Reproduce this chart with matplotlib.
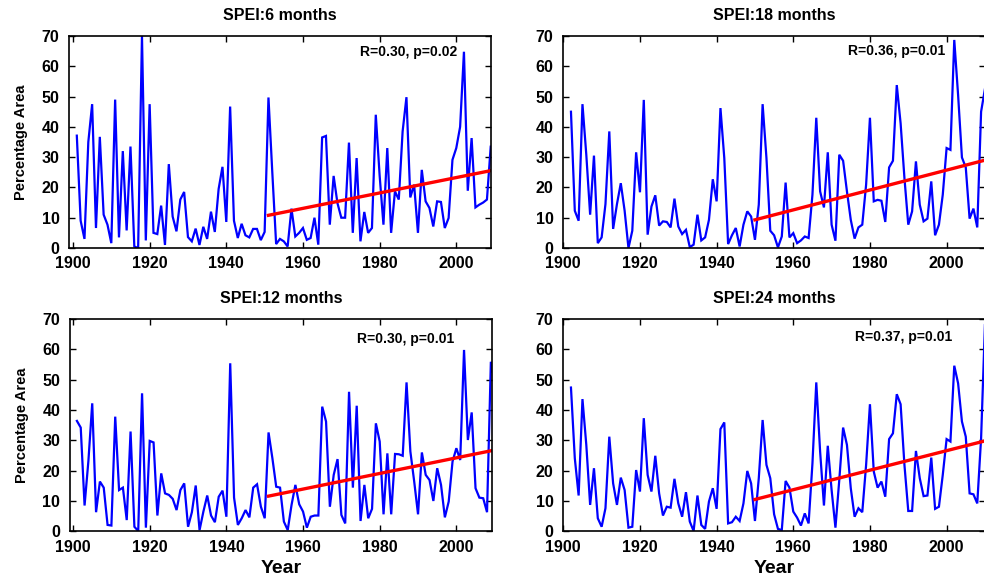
import numpy as np
import matplotlib
matplotlib.use("Agg")
import matplotlib.pyplot as plt

plt.rcParams['font.family'] = ['Liberation Sans', 'DejaVu Sans']
plt.rcParams['font.weight'] = 'bold'

years_a = list(range(1901, 2011))
years_b = list(range(1902, 2011))

spei6 = [37.1, 9, 3, 35, 47.5, 6.6, 36.7, 11, 7.7, 1.6,
         49, 3.5, 32, 5.8, 33.5, 0.5, 0, 70, 2.5, 47.5,
         5, 4.6, 14, 1, 27.7, 10.4, 5.5, 16, 18.5, 3.6,
         2.2, 6.4, 1, 7, 3, 12, 5.3, 19.5, 26.8, 8.6,
         46.7, 9, 3.3, 8, 4.2, 3.5, 6.3, 6.3, 2.6, 5.3,
         49.7, 25, 1.3, 3, 2.2, 0.5, 13, 3.8, 5, 6.6,
         2.7, 3.3, 10, 1.1, 36.5, 37, 7.7, 23.8, 14.8, 10,
         10, 34.8, 5, 29.7, 2.2, 11.9, 5, 6.6, 44, 24,
         7.7, 33, 5, 18.7, 16, 38.5, 49.8, 16.7, 20.9, 5,
         25.8, 15.4, 13.2, 7.1, 15.4, 15.2, 6.6, 9.9, 29.1, 33,
         40, 64.8, 18.9, 36.3, 13.4, 14.3, 15, 16, 33.8, 29]

spei18 = [45, 12.3, 9, 47.5, 30.8, 11, 30.5, 1.6, 3.5,
          14.5, 38.5, 6.3, 14.5, 21.4, 12.3, 0, 5.7, 31.6, 18.4,
          48.9, 4.4, 13.7, 17.4, 7.4, 8.8, 8.6, 6.8, 16.3, 7.1,
          4.6, 6, 0.3, 1.1, 11, 2.5, 3.5, 9.3, 22.7, 15.4,
          46.2, 29.7, 1.3, 4.2, 6.6, 0.5, 7.7, 12.1, 10.4, 2.7,
          14.3, 47.5, 29.7, 5.7, 4.2, 0.2, 3.8, 21.6, 3.5, 4.9,
          1.6, 2.5, 3.8, 3.3, 17.6, 43, 18.7, 13.4, 31.6, 7.7,
          2.4, 30.8, 28.8, 18.7, 9.3, 3.1, 6.8, 7.7, 20.9, 43,
          15.4, 15.9, 15.6, 8.6, 26.6, 28.8, 53.8, 41.2, 23.1, 7.7,
          12.1, 28.6, 14.3, 8.8, 9.7, 22, 4.2, 7.7, 17.6, 33,
          32.4, 68.7, 50.5, 29.9, 26.6, 9.7, 13, 6.8, 45, 52.5]

spei12 = [36.4, 34.2, 8.5, 23.2, 42.2, 6.3, 16.4, 14.4, 2.1, 1.9,
          37.8, 13.6, 14.4, 3.7, 32.9, 1.5, 0.1, 45.5, 1.2, 29.8,
          29.3, 5.2, 19.1, 12.5, 12, 10.7, 7, 13.6, 15.8, 1.5,
          6.3, 15.1, 0.4, 6.5, 11.8, 5.2, 3, 11.4, 13.4, 4.8,
          55.4, 11.1, 2.1, 4.3, 7, 4.6, 14.4, 15.5, 8.1, 4.3,
          32.6, 24.1, 14.7, 14.4, 3.2, 0.4, 8.7, 15.3, 8.9, 6.5,
          1.2, 4.8, 5.2, 5.2, 41.1, 36.2, 8.1, 18.6, 23.8, 5.4,
          2.6, 46, 14.4, 41.4, 3.4, 15.3, 4.3, 7.4, 35.6, 29.6,
          5.6, 25.7, 5.6, 25.5, 25.4, 24.9, 49.1, 26.3, 16.4, 5.6,
          26, 18.6, 16.9, 10, 20.8, 15.3, 4.6, 9.8, 23, 27.4,
          23.5, 59.8, 30.1, 39.2, 14.2, 11.1, 10.9, 6.3, 55.9, 49.3]

spei24 = [47.4, 24.1, 11.8, 43.6, 28.5, 8.7, 20.8, 4.3, 1.5,
          7.6, 31.2, 15.8, 8.7, 17.7, 13.6, 1.2, 1.5, 20.2, 13.1,
          37.3, 18.6, 13.1, 24.9, 12.5, 5.2, 8.1, 7.8, 17.3, 9.2,
          4.8, 12.9, 3.2, 0.1, 11.8, 2.1, 0.8, 9.8, 14.2, 7.4,
          33.7, 35.9, 2.6, 3, 4.8, 3.4, 9.2, 19.9, 15.8, 3.4,
          17.5, 36.7, 21.9, 17.5, 5.6, 0.8, 0.4, 16.6, 14.4, 6.5,
          4.5, 1.9, 5.9, 2.6, 22.4, 49.1, 26.3, 8.5, 28.2, 13.6,
          1.2, 16.9, 34.2, 28.5, 14.2, 4.8, 7.6, 6.3, 21.9, 41.9,
          19.7, 14.4, 16.4, 11.4, 30.4, 32.3, 45.2, 41.9, 21.9, 6.7,
          6.7, 26.5, 17.5, 11.6, 11.8, 24.3, 7.4, 8.1, 18.6, 30.4,
          29.6, 54.6, 48.8, 36.2, 31.2, 12.5, 12.2, 9.2, 30.7, 68]

titles = ["SPEI:6 months", "SPEI:18 months", "SPEI:12 months", "SPEI:24 months"]
stats = ["R=0.30, p=0.02", "R=0.36, p=0.01", "R=0.30, p=0.01", "R=0.37, p=0.01"]
trend_years = [[1951, 2010], [1950, 2010], [1951, 2010], [1950, 2010]]
trend_vals = [[10.8, 25.8], [9.3, 29.0], [11.6, 26.8], [10.5, 29.8]]
xticks = [1900, 1920, 1940, 1960, 1980, 2000]
yticks = [0, 10, 20, 30, 40, 50, 60, 70]

W, H = 984, 581
fig = plt.figure(figsize=(W / 100, H / 100), dpi=100)

def px_axes(left, top, width, height):
    return fig.add_axes([left / W, (H - top - height) / H, width / W, height / H])

axw = 422.0
axes = [px_axes(69.3, 36, axw, 212), px_axes(563.3, 36, axw, 212),
        px_axes(70.0, 319, axw, 212.3), px_axes(563.3, 319, axw, 212.3)]
series = [(years_a, spei6), (years_b, spei18), (years_a, spei12), (years_b, spei24)]
xlims = [(1899.04, 1899.04 + axw / 3.833), (1900.0, 1900.0 + axw / 3.833),
         (1899.2, 1899.2 + axw / 3.833), (1900.0, 1900.0 + axw / 3.833)]
stat_pos = [(0.689, 0.925), (0.675, 0.93), (0.68, 0.906), (0.692, 0.915)]

for i, ax in enumerate(axes):
    x, y = series[i]
    ax.plot(x, y, color='#0000ff', lw=1.6, solid_joinstyle='miter')
    ax.plot(trend_years[i], trend_vals[i], color='#ff0000', lw=2.4)
    ax.set_xlim(*xlims[i])
    ax.set_ylim(0, 70)
    ax.set_xticks(xticks)
    ax.set_yticks(yticks)
    ax.tick_params(direction='in', top=True, right=True, length=4, width=1,
                   labelsize=11.5)
    ax.tick_params(axis='x', pad=6)
    ax.tick_params(axis='y', pad=7)
    for lab in ax.get_xticklabels() + ax.get_yticklabels():
        lab.set_fontweight('bold')
    for sp in ax.spines.values():
        sp.set_linewidth(1.2)
    ax.set_title(titles[i], fontsize=11.5, fontweight='bold', pad=11.5)
    ax.text(stat_pos[i][0], stat_pos[i][1], stats[i], transform=ax.transAxes,
            fontsize=10, fontweight='bold', ha='left', va='center')
    if i in (0, 2):
        ax.set_ylabel("Percentage Area", fontsize=10.5, fontweight='bold', labelpad=10)
    if i in (2, 3):
        ax.set_xlabel("Year", fontsize=14, fontweight='bold', labelpad=4)

fig.savefig("out.png", dpi=100)
